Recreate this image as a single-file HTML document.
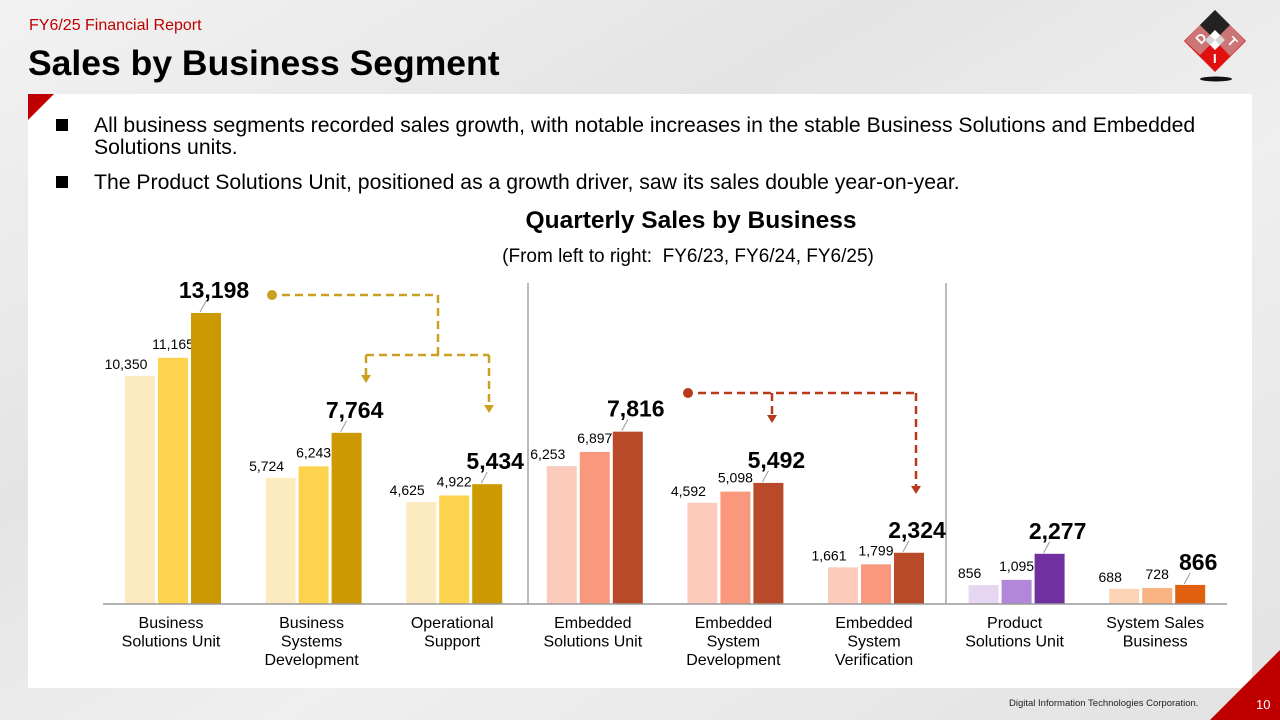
<!DOCTYPE html>
<html><head><meta charset="utf-8">
<style>
html,body{margin:0;padding:0;width:1280px;height:720px;overflow:hidden;font-family:"Liberation Sans",Arial,sans-serif;}
body{background:linear-gradient(150deg,#f2f2f2 0%,#e4e4e4 35%,#efefef 60%,#e2e2e2 100%);position:relative;}
.abs{position:absolute;}
</style></head>
<body>
<div class="abs" style="left:29px;top:17px;font-size:16px;color:#c00000;">FY6/25 Financial Report</div>
<div class="abs" style="left:28px;top:43px;font-size:35.5px;font-weight:bold;color:#000;">Sales by Business Segment</div>
<svg class="abs" style="left:1180px;top:8px" width="70" height="80" viewBox="0 0 70 80">
 <ellipse cx="36" cy="71" rx="16" ry="2.5" fill="#111"/>
 <polygon points="35,2 66,33 35,64 4,33" fill="#e01010"/>
 <polygon points="35,2 50,17 35,32 20,17" fill="#222"/>
 <polygon points="35,22 45,32 35,42 25,32" fill="#fff"/>
 <polygon points="20,17 35,32 20,47 5,33" fill="#bbb" opacity=".6"/>
 <polygon points="50,17 65,33 50,48 35,32" fill="#bbb" opacity=".6"/>
 <text x="18" y="38" font-size="13" font-weight="bold" fill="#fff" transform="rotate(-45 18 34)">D</text>
 <text x="33" y="55" font-size="13" font-weight="bold" fill="#fff">I</text>
 <text x="48" y="38" font-size="13" font-weight="bold" fill="#fff" transform="rotate(45 52 34)">T</text>
</svg>
<div class="abs" style="left:28px;top:94px;width:1224px;height:594px;background:#fff;"></div>
<svg class="abs" style="left:28px;top:94px" width="26" height="26"><polygon points="0,0 26,0 0,26" fill="#c00000"/></svg>
<svg class="abs" style="left:1180px;top:650px" width="100" height="70"><polygon points="100,0 100,70 30,70" fill="#c00000"/></svg>
<div class="abs" style="left:1256px;top:697px;font-size:13px;color:#fff;">10</div>
<div class="abs" style="left:1009px;top:698px;font-size:9.5px;color:#222;">Digital Information Technologies Corporation.</div>

<div class="abs" style="left:56px;top:115px;width:1152px;font-size:21.2px;line-height:22px;color:#000;">
 <span style="position:absolute;left:0;top:4px;width:12px;height:12px;background:#000"></span>
 <div style="margin-left:38px">All business segments recorded sales growth, with notable increases in the stable Business Solutions and Embedded Solutions units.</div>
</div>
<div class="abs" style="left:56px;top:172px;width:1152px;font-size:21.2px;line-height:22px;color:#000;">
 <span style="position:absolute;left:0;top:4px;width:12px;height:12px;background:#000"></span>
 <div style="margin-left:38px">The Product Solutions Unit, positioned as a growth driver, saw its sales double year-on-year.</div>
</div>

<svg id="chart" class="abs" style="left:0;top:0" width="1280" height="720"></svg>
<script>
const categories=[["Business","Solutions Unit"],["Business","Systems","Development"],["Operational","Support"],["Embedded","Solutions Unit"],["Embedded","System","Development"],["Embedded","System","Verification"],["Product","Solutions Unit"],["System Sales","Business"]];
const fy23=[10350,5724,4625,6253,4592,1661,856,688];
const fy24=[11165,6243,4922,6897,5098,1799,1095,728];
const fy25=[13198,7764,5434,7816,5492,2324,2277,866];
const palettes=[["#fdebc0","#fdd24c","#cc9900"],["#fdebc0","#fdd24c","#cc9900"],["#fdebc0","#fdd24c","#cc9900"],["#fdcbbb","#f9987c","#b84a2a"],["#fdcbbb","#f9987c","#b84a2a"],["#fdcbbb","#f9987c","#b84a2a"],["#e6d6f2","#b286d8","#7030a0"],["#fdd3b5","#f9b383","#e06010"]];
const NS="http://www.w3.org/2000/svg";
const svg=document.getElementById('chart');
const base=604, scale=291/13198;
const y=v=>base-v*scale;
const gx=i=>173+i*140.6;
const BW=30,GAP=3;
function el(t,a,p){const e=document.createElementNS(NS,t);for(const k in a)e.setAttribute(k,a[k]);(p||svg).appendChild(e);return e;}
function fmt(v){return v.toLocaleString('en-US');}
let t=el('text',{x:691,y:228,'font-size':24.5,'font-weight':'bold','text-anchor':'middle'});t.textContent='Quarterly Sales by Business';


t=el('text',{x:688,y:262,'font-size':19,'text-anchor':'middle',style:'white-space:pre'});t.textContent='(From left to right:  FY6/23, FY6/24, FY6/25)';


[528,946].forEach(x=>{const l=el('line',{x1:x,x2:x,y1:283,y2:604,stroke:'#bbb','stroke-width':2});

});
categories.forEach((c,i)=>{
 const cx=gx(i);
 [fy23[i],fy24[i],fy25[i]].forEach((v,j)=>{
  const x=cx-BW*1.5-GAP+j*(BW+GAP);
  const r=el('rect',{x:x,y:y(v),width:BW,height:base-y(v),fill:palettes[i][j]});
  
  
  const bx=x+BW/2;
  let lab;
  if(j==2){lab=el('text',{x:bx+8,y:y(v)-15,'font-size':23,'font-weight':'bold','text-anchor':'middle'});
   el('line',{x1:bx-6,y1:y(v)-1,x2:bx,y2:y(v)-12,stroke:'#999','stroke-width':1});}
  else if(j==0){lab=el('text',{x:bx-14,y:y(v)-7,'font-size':14,'text-anchor':'middle'});}
  else{lab=el('text',{x:bx,y:y(v)-9,'font-size':14,'text-anchor':'middle'});}
  lab.textContent=fmt(v);
  
  
 });
 c.forEach((line,k)=>{const tt=el('text',{x:cx-2,y:628+k*18.5,'font-size':16,'text-anchor':'middle'});tt.textContent=line;
 
 });
});
const ax=el('line',{x1:103,x2:1227,y1:604,y2:604,stroke:'#999','stroke-width':1.5});


function arrows(col,dot,pts,branches,name){
 const g=el('g',{});
 
 
 el('circle',{cx:dot[0],cy:dot[1],r:5,fill:col},g);
 el('polyline',{points:pts,fill:'none',stroke:col,'stroke-width':2.5,'stroke-dasharray':'8 5'},g);
 branches.forEach(b=>{el('line',{x1:b[0],x2:b[0],y1:b[1],y2:b[2]-6,stroke:col,'stroke-width':2.5,'stroke-dasharray':'8 5'},g);
  el('polygon',{points:`${b[0]-5},${b[2]-8} ${b[0]+5},${b[2]-8} ${b[0]},${b[2]}`,fill:col},g);});
}
arrows('#c9a020',[272,295],'282,295 438,295 438,355',[[366,355,383],[489,355,413]],'gold-arrow');
el('line',{x1:366,x2:489,y1:355,y2:355,stroke:'#c9a020','stroke-width':2.5,'stroke-dasharray':'8 5'});
arrows('#b83a1a',[688,393],'698,393 916,393',[[772,393,423],[916,393,494]],'red-arrow');
</script>
</body></html>
